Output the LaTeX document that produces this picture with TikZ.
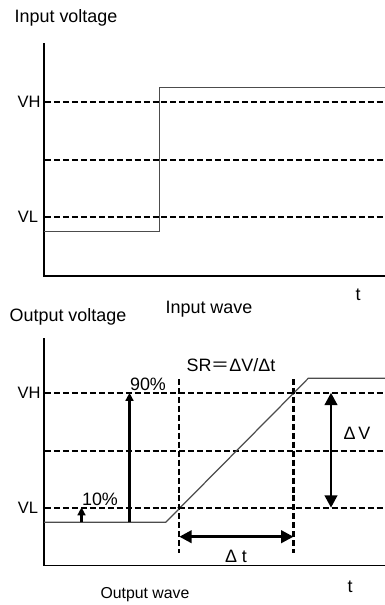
\documentclass[tikz,border=0pt]{standalone}
\usepackage{fontspec}
\setmainfont{Liberation Sans}
\newfontfamily\cjk{Noto Sans CJK SC}
\usetikzlibrary{positioning, arrows.meta}

\begin{document}
\begin{tikzpicture}[
        x=0.02cm, y=-0.02cm,
        axis/.style={line width=0.7pt, black},
        level/.style={line width=1.3pt, dash pattern=on 3.4pt off 1.7pt},
        wave/.style={line width=0.7pt, black!70},
        dot/.style={circle, fill=black, inner sep=0pt, minimum size=2.2pt},
        lbl/.style={inner sep=0pt, font=\fontsize{10.2}{12}\selectfont},
        vlbl/.style={inner sep=0pt, font=\fontsize{9.4}{11}\selectfont},
        bigarrow/.style={line width=1.6pt, {Triangle[length=7pt, width=7pt]}-{Triangle[length=7pt, width=7pt]}},
        riser/.style={line width=1.8pt, -{Triangle[length=4.6pt, width=4.4pt]}}
    ]
        \useasboundingbox (0,0) rectangle (385,605);

        % Input side
        \node[lbl] (intitle) at (66,18) {Input voltage};
        \coordinate (inorig) at (44,276);
        \coordinate (intop) at (44,43);
        \coordinate (inend) at (385,276);
        \draw[axis] (intop) -- (inorig) -- (inend);

        \node[vlbl] (inVH) at (29,101.7) {VH};
        \node[vlbl] (inVL) at (28,216.7) {VL};
        \draw[level] (45,101.7) -- (385,101.7);
        \draw[level] (45,160) -- (385,160);
        \draw[level] (45,216.7) -- (385,216.7);

        \draw[wave] (44,231.7) -- (159.3,231.7) -- (159.3,87.3) -- (385,87.3);

        \node[lbl] (int) at (358,295) {t};
        \node[lbl] (inwave) at (209,309) {Input wave};

        % Output side
        \node[lbl] (outtitle) at (68,317) {Output voltage};
        \coordinate (outorig) at (44,565.7);
        \coordinate (outtop) at (44,338);
        \coordinate (outend) at (385,565.7);
        \draw[axis] (outtop) -- (outorig) -- (outend);

        \node[vlbl] (outVH) at (29,392.7) {VH};
        \node[vlbl] (outVL) at (28,507.7) {VL};
        \draw[level] (45,392.7) -- (385,392.7);
        \draw[level] (45,450.7) -- (385,450.7);
        \draw[level] (45,507.7) -- (385,507.7);

        \coordinate (tstart) at (179.3,507.7);
        \coordinate (tstop) at (293.5,392.7);
        \draw[level] (179.3,379) -- (179.3,553);
        \draw[level] (293.5,379) -- (293.5,553);

        \draw[wave] (44,522.3) -- (165.7,522.3) -- (308.3,378.3) -- (385,378.3);
        \node[dot] at (tstart) {};
        \node[dot] at (tstop) {};

        \coordinate (low10) at (81.5,522.3);
        \coordinate (up10) at (81.5,507.2);
        \coordinate (low90) at (129.5,522.3);
        \coordinate (up90) at (129.5,392.7);
        \draw[riser] (low10) -- (up10);
        \draw[riser] (low90) -- (up90);
        \node[lbl] (p10) at (100,499) {10\%};
        \node[lbl] (p90) at (148,384) {90\%};

        \coordinate (dvtop) at (331,392.7);
        \coordinate (dvbot) at (331,507.7);
        \draw[bigarrow] (dvtop) -- (dvbot);
        \node[lbl] (dv) at (357,433) {Δ\,V};

        \coordinate (dtleft) at (179.3,536.7);
        \coordinate (dtright) at (293.5,536.7);
        \draw[bigarrow] (dtleft) -- (dtright);
        \node[lbl] (dt) at (236,556) {Δ t};

        \node[lbl] (sr) at (231,365) {SR{\cjk ＝}ΔV/Δt};

        \node[lbl] (outt) at (350,587) {t};
        \node[lbl, font=\fontsize{9}{11}\selectfont] (outwave) at (145,595) {Output wave};
    \end{tikzpicture}
\end{document}
